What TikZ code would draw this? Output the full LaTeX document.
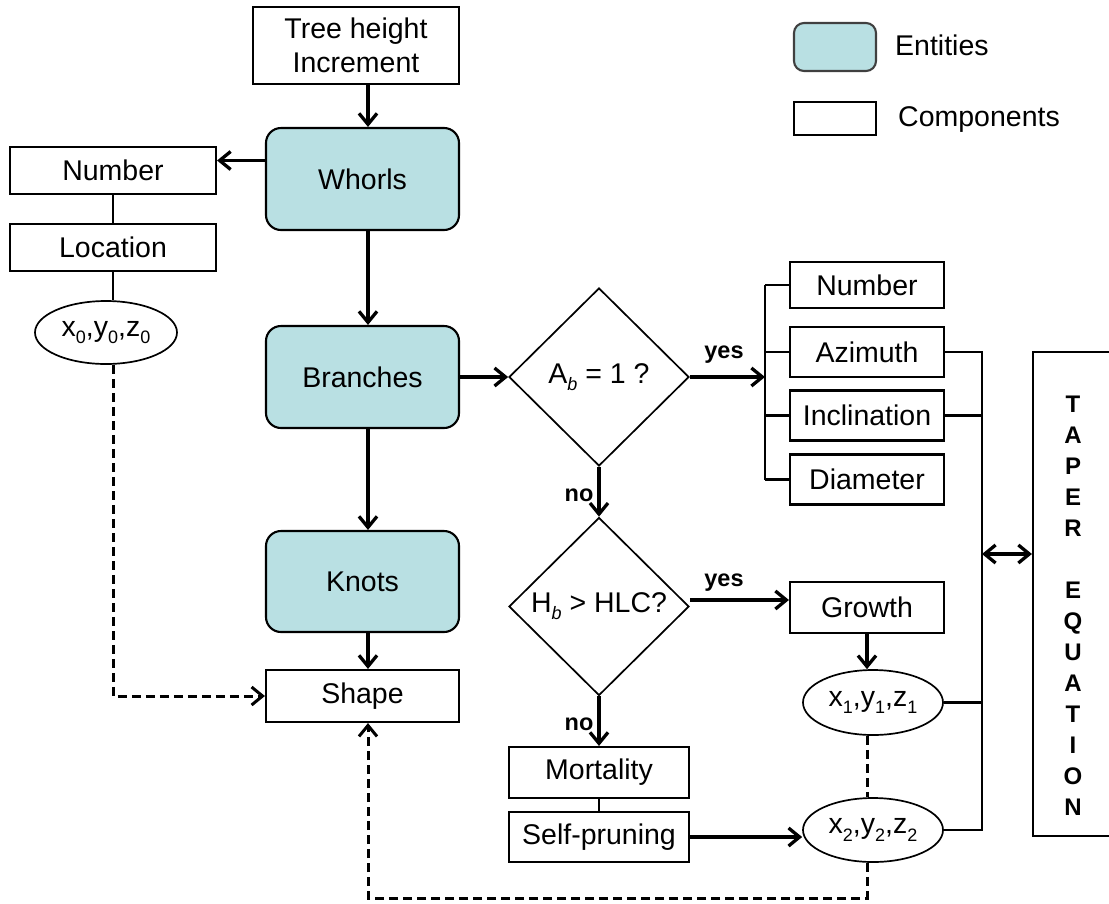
\documentclass[tikz,border=0pt]{standalone}
\usepackage{fontspec}
\setmainfont{Liberation Sans}
\usetikzlibrary{shapes.geometric,arrows.meta}
\definecolor{entfill}{RGB}{185,224,227}
\newcommand{\mf}{\fontsize{28.5}{34}\selectfont}
\newcommand{\lf}{\fontsize{23.5}{28}\selectfont\bfseries}
\newcommand{\lo}[1]{\raisebox{-0.25em}{\fontsize{18}{18}\selectfont #1}}
\begin{document}
\begin{tikzpicture}[x=1pt,y=-1pt,
  comp/.style={draw, line width=2.1pt, inner sep=0pt, font=\mf, align=center},
  ent/.style={comp, rounded corners=15pt, fill=entfill},
  oval/.style={ellipse, draw, line width=1.7pt, inner sep=0pt, font=\mf},
  dec/.style={diamond, draw, line width=1.7pt, inner sep=0pt, minimum width=180pt, minimum height=178pt, font=\mf},
  tip/.tip={Straight Barb[length=11pt,width=18pt]},
  arr/.style={line width=3.3pt, -tip},
  link/.style={line width=2.8pt},
  dline/.style={line width=3pt, dash pattern=on 9pt off 5pt},
  lab/.style={font=\lf, inner sep=0pt}
]
\useasboundingbox (0,0) rectangle (1109,903);
\coordinate (cx) at (368,0);
\coordinate (bx) at (765,0);
\coordinate (rx) at (982,0);
\coordinate (wy) at (0,160.5);
\coordinate (gy) at (0,600);
\coordinate (ty) at (0,554);
\coordinate (by) at (0,898);

% left column
\node[comp, minimum width=206pt, minimum height=77pt] (tree) at (356,45.5) {Tree height\\Increment};
\node[ent, minimum width=193pt, minimum height=102pt] (whorls) at (362.5,179) {Whorls};
\node[ent, minimum width=193pt, minimum height=102pt] (branches) at (362.5,377) {Branches};
\node[ent, minimum width=193pt, minimum height=101pt] (knots) at (362.5,581.5) {Knots};
\node[comp, minimum width=193pt, minimum height=52pt] (shape) at (362.5,696) {Shape};
\node[comp, minimum width=206pt, minimum height=47pt] (numw) at (113,170.5) {Number};
\node[comp, minimum width=206pt, minimum height=47pt] (loc) at (113,247.5) {Location};
\node[oval, minimum width=142pt, minimum height=63pt] (p0) at (106,332.5) {x\lo{0},y\lo{0},z\lo{0}};

% decisions
\node[dec] (d1) at (599,377) {A\lo{\itshape b} = 1 ?};
\node[dec] (d2) at (599,606.5) {H\lo{\itshape b} > HLC?};
\node[comp, minimum width=180pt, minimum height=51pt] (mort) at (599,772.5) {Mortality};
\node[comp, minimum width=180pt, minimum height=50pt] (self) at (599,837) {Self-pruning};

% right column
\node[comp, minimum width=154pt, minimum height=46pt] (numb) at (867,285) {Number};
\node[comp, minimum width=154pt, minimum height=50pt] (azi) at (867,352) {Azimuth};
\node[comp, minimum width=154pt, minimum height=50pt] (incl) at (867,415.5) {Inclination};
\node[comp, minimum width=154pt, minimum height=50pt] (diam) at (867,479.5) {Diameter};
\node[comp, minimum width=154pt, minimum height=51pt] (growth) at (867,607.5) {Growth};
\node[oval, minimum width=140pt, minimum height=65pt] (p1) at (873,702.5) {x\lo{1},y\lo{1},z\lo{1}};
\node[oval, minimum width=140pt, minimum height=64pt] (p2) at (873,830) {x\lo{2},y\lo{2},z\lo{2}};

% taper equation
\node[draw, line width=2.1pt, minimum width=80pt, minimum height=484pt] (taper) at (1073,594) {};
\node[font=\fontsize{24}{31}\selectfont\bfseries, align=center, inner sep=0pt] (tapertxt) at (1073,606)
  {T\\A\\P\\E\\R\\[31pt]E\\Q\\U\\A\\T\\I\\O\\N};

% legend
\node[ent, draw=black!75, rounded corners=10pt, minimum width=82pt, minimum height=48pt] (lent) at (835,47) {};
\node[comp, minimum width=82pt, minimum height=33pt] (lcomp) at (835,118.5) {};
\node[font=\mf, anchor=base west, inner sep=0pt] (lentt) at (895,55) {Entities};
\node[font=\mf, anchor=base west, inner sep=0pt] (lcompt) at (898,126) {Components};

% connectors
\draw[arr] (tree.south -| cx) -- (whorls.north -| cx);
\draw[arr] (whorls.west |- wy) -- (numw.east |- wy);
\draw[arr] (whorls.south -| cx) -- (branches.north -| cx);
\draw[arr] (branches.south -| cx) -- (knots.north -| cx);
\draw[arr] (knots.south -| cx) -- (shape.north -| cx);
\draw[link] (numw) -- (loc);
\draw[link] (loc.south) -- (loc.south |- p0.north);
\draw[dline, -tip] (loc.south |- p0.south) -- (loc.south |- shape.west) -- (shape.west);

\draw[arr] (branches) -- (d1);
\draw[arr] (d1.east) -- (d1.east -| bx);
\node[lab] (yes1) at (724,355) {yes};
\draw[link] (numb.west -| bx) -- (diam.west -| bx);
\foreach \n in {numb,azi,incl,diam} \draw[link] (\n.west -| bx) -- (\n.west);

\draw[arr] (d1.south) -- (d2.north);
\node[lab] (no1) at (579,495) {no};
\draw[arr] (d2.east |- gy) -- (growth.west |- gy);
\node[lab] (yes2) at (724,583) {yes};
\draw[arr] (growth.south) -- (growth.south |- p1.north);
\draw[dline] (growth.south |- p1.south) -- (growth.south |- p2.north);
\draw[arr] (d2.south) -- (mort.north);
\node[lab] (no2) at (579,724) {no};
\draw[line width=1.7pt] (mort) -- (self);
\draw[arr] (self.east) -- (self.east -| p2.west);

\draw[link] (azi.east) -- (azi.east -| rx) -- (p2.east -| rx) -- (p2.east);
\draw[link] (incl.east) -- (incl.east -| rx);
\draw[link] (p1.east) -- (p1.east -| rx);
\draw[line width=3.3pt, tip-tip] (rx |- ty) -- (taper.west |- ty);

\draw[dline, -tip] (growth.south |- p2.south) -- (growth.south |- by) -- (cx |- by) -- (shape.south -| cx);
\end{tikzpicture}
\end{document}
